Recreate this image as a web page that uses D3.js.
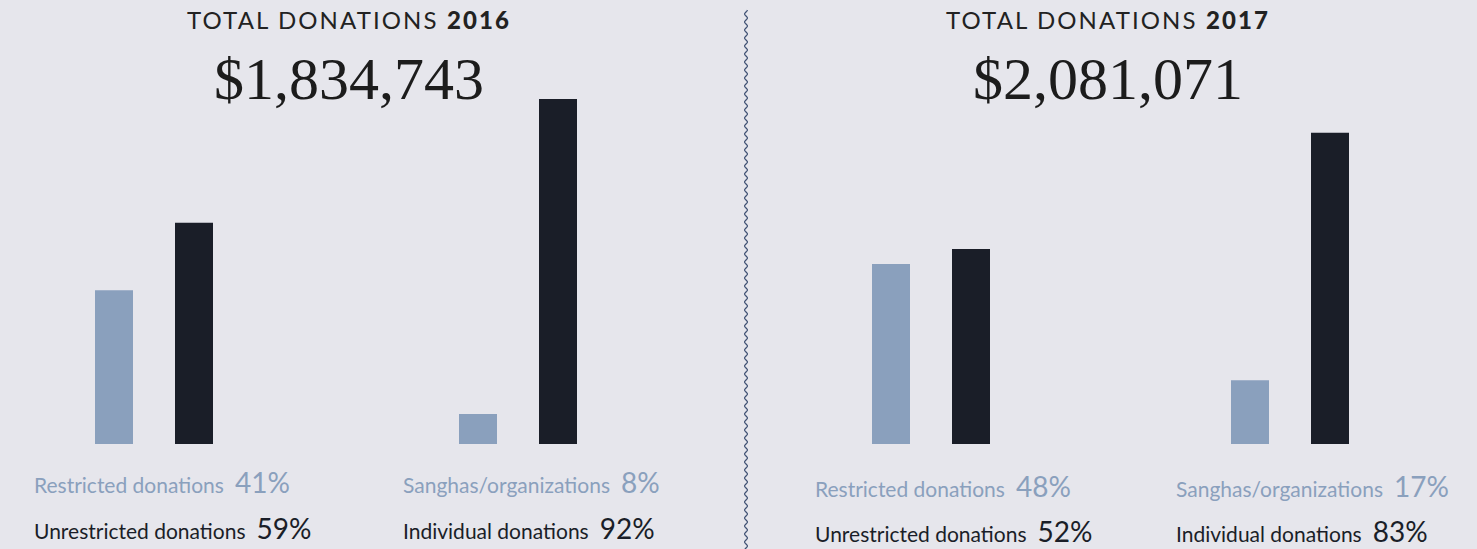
<!DOCTYPE html>
<html>
<head>
<meta charset="utf-8">
<script src="https://cdn.jsdelivr.net/npm/d3@7"></script>
<style>
  html, body { margin: 0; padding: 0; background: #e6e6ec; }
  svg { display: block; }
</style>
</head>
<body>
<div id="chart"></div>
<script>
// data
var years = ['2016', '2017']
var totals = ['$1,834,743', '$2,081,071']
var groups = ['restriction', 'source']
var lightLabels = ['Restricted donations', 'Sanghas/organizations']
var darkLabels = ['Unrestricted donations', 'Individual donations']
var lightPct = { '2016': [41, 8], '2017': [48, 17] }
var darkPct = { '2016': [59, 92], '2017': [52, 83] }

var width = 1477
var height = 549
var lightColor = '#8aa0bd'
var darkColor = '#1a1e28'

// layout per panel
var panels = [
  { center: 349, groupRange: [154, 518], labelX: [34, 403], lightY: 493, darkY: 539 },
  { center: 1108, groupRange: [931, 1290], labelX: [815, 1176], lightY: 497, darkY: 542 }
]

var svg = d3.select('#chart')
  .append('svg')
  .attr('width', width)
  .attr('height', height)

svg.append('rect')
  .attr('width', width)
  .attr('height', height)
  .attr('fill', '#e6e6ec')

// shared y scale, both years on the same axis
var yScale = d3.scaleLinear()
  .domain([0, 100])
  .range([444, 69])

years.forEach(function(year, i) {
  var p = panels[i]
  var g = svg.append('g').attr('class', 'panel-' + year)

  // title
  var title = g.append('text')
    .attr('x', p.center)
    .attr('y', 29)
    .attr('text-anchor', 'middle')
    .style('font-family', 'Lato')
    .style('font-size', '24px')
    .style('letter-spacing', '2.1px')
    .style('fill', '#222')
  title.append('tspan').text('TOTAL DONATIONS ')
  title.append('tspan').style('font-weight', '900').text(year)

  g.append('text')
    .attr('x', p.center)
    .attr('y', 99)
    .attr('text-anchor', 'middle')
    .style('font-family', 'Liberation Serif')
    .style('font-variant-numeric', 'oldstyle-nums')
    .style('font-size', '60px')
    .style('fill', '#1c1c1c')
    .text(totals[i])

  var groupX = d3.scalePoint()
    .domain(groups)
    .range(p.groupRange)

  groups.forEach(function(grp, j) {
    var cx = groupX(grp)
    var barX = d3.scaleBand()
      .domain(['light', 'dark'])
      .range([cx - 59, cx + 59])
      .paddingInner(0.525)

    var vals = [
      { key: 'light', v: lightPct[year][j], color: lightColor },
      { key: 'dark', v: darkPct[year][j], color: darkColor }
    ]

    g.selectAll('.bar-' + grp)
      .data(vals)
      .enter()
      .append('rect')
      .attr('class', 'bar-' + grp)
      .attr('x', d => barX(d.key))
      .attr('width', barX.bandwidth())
      .attr('y', d => yScale(d.v))
      .attr('height', d => yScale(0) - yScale(d.v))
      .attr('fill', d => d.color)

    // labels under the bars
    var lt = g.append('text')
      .attr('x', p.labelX[j])
      .attr('y', p.lightY)
      .style('font-family', 'Lato')
      .style('fill', lightColor)
    lt.append('tspan').style('font-size', '21px').text(lightLabels[j])
    lt.append('tspan').attr('dx', 11).style('font-size', '28px').text(lightPct[year][j] + '%')

    var dt = g.append('text')
      .attr('x', p.labelX[j])
      .attr('y', p.darkY)
      .style('font-family', 'Lato')
      .style('fill', darkColor)
    dt.append('tspan').style('font-size', '21px').text(darkLabels[j])
    dt.append('tspan').attr('dx', 11).style('font-size', '28px').text(darkPct[year][j] + '%')
  })
})

// wavy divider between the years
var wave = d3.range(10, height + 1, 0.5).map(y => [746 + 1.4 * Math.sin(y / 8 * 2 * Math.PI), y])
svg.append('path')
  .attr('d', d3.line()(wave))
  .attr('fill', 'none')
  .attr('stroke', '#3d4f72')
  .attr('stroke-width', 1.2)
</script>
</body>
</html>
